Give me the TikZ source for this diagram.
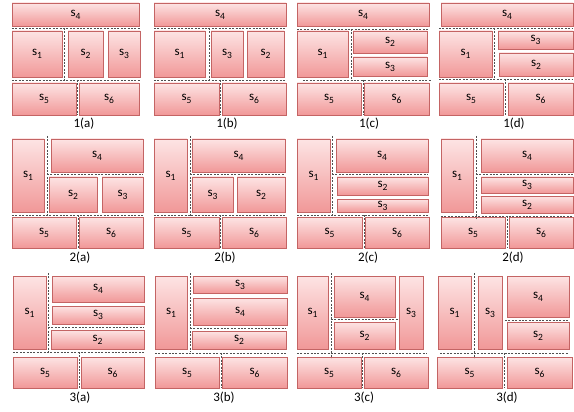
\documentclass[tikz,border=0pt]{standalone}
\usepackage{fontspec}
\setmainfont{Carlito}
\usetikzlibrary{shadows}
\definecolor{boxtop}{RGB}{253,228,228}
\definecolor{boxbot}{RGB}{241,152,152}
\definecolor{boxline}{RGB}{196,100,100}
\definecolor{dashcol}{RGB}{80,80,80}
\newcommand\sub[1]{\raisebox{-0.45ex}{\fontsize{9.5}{10}\selectfont #1}}
\tikzset{
  sbox/.style={draw=boxline, line width=0.6pt, top color=boxtop, bottom color=boxbot,
    inner sep=0pt, outer sep=0pt, font=\fontsize{13}{14}\selectfont,
    drop shadow={shadow xshift=0.9pt, shadow yshift=-0.9pt, opacity=0.25}},
  cut/.style={draw=dashcol, line width=0.7pt, dash pattern=on 2pt off 1.4pt},
  caption/.style={font=\fontsize{13}{14}\selectfont, inner sep=0pt}
}
\newcommand\bx[6]{%
  \pgfmathsetmacro\bxw{#4-#2}\pgfmathsetmacro\bxh{#5-#3}%
  \node[sbox, minimum width=\bxw pt, minimum height=\bxh pt] (#1) at ({(#2+#4)/2},{(#3+#5)/2}) {s\sub{#6}};}
\newcommand\cutline[4]{\draw[cut] (#1,#2) -- (#3,#4);}
\begin{document}
\begin{tikzpicture}[x=1pt,y=-1pt]
\useasboundingbox (0,0) rectangle (574,412);
% ---------- row 1 ----------
% 1(a)
\bx{a4}{12}{3}{139}{26}{4}
\bx{a1}{12}{31}{62}{77}{1}
\bx{a2}{68}{31}{103}{77}{2}
\bx{a3}{108}{31}{140}{77}{3}
\bx{a5}{12}{83}{76}{115}{5}
\bx{a6}{79}{83}{139}{115}{6}
\cutline{12}{28}{140}{28}\cutline{12}{80}{140}{80}
\cutline{64}{28}{64}{80}\cutline{77}{80}{77}{115}
\node[caption] (la) at (84,124) {1(a)};
% 1(b)
\bx{b4}{154}{3}{286}{26}{4}
\bx{b1}{154}{31}{205}{77}{1}
\bx{b3}{211}{31}{243}{77}{3}
\bx{b2}{247}{31}{284}{77}{2}
\bx{b5}{154}{83}{219}{115}{5}
\bx{b6}{222}{83}{286}{115}{6}
\cutline{154}{28}{286}{28}\cutline{154}{80}{286}{80}
\cutline{209}{28}{209}{80}\cutline{220}{80}{220}{115}
\node[caption] (lb) at (227,124) {1(b)};
% 1(c)
\bx{c4}{297}{3}{429}{26}{4}
\bx{c1}{297}{31}{348}{77}{1}
\bx{c2}{353}{31}{427}{53}{2}
\bx{c3}{353}{57}{427}{76}{3}
\bx{c5}{297}{83}{361}{115}{5}
\bx{c6}{364}{83}{429}{115}{6}
\cutline{297}{29}{428}{29}\cutline{303}{80}{432}{80}
\cutline{351}{29}{351}{80}\cutline{363}{80}{363}{115}
\node[caption] (lc) at (369,124) {1(c)};
% 1(d)
\bx{d4}{441}{3}{573}{26}{4}
\bx{d1}{439}{31}{492}{77}{1}
\bx{d3}{498}{31}{573}{49}{3}
\bx{d2}{499}{53}{573}{76}{2}
\bx{d5}{439}{83}{503}{115}{5}
\bx{d6}{508}{83}{573}{115}{6}
\cutline{439}{28}{573}{28}\cutline{439}{79}{573}{79}
\cutline{494}{28}{494}{80}\cutline{505}{79}{505}{115}
\node[caption] (ld) at (514,124) {1(d)};
% ---------- row 2 ----------
% 2(a)
\bx{e1}{12}{139}{44}{212}{1}
\bx{e4}{51}{139}{143}{172}{4}
\bx{e2}{49}{177}{97}{212}{2}
\bx{e3}{102}{177}{143}{212}{3}
\bx{e5}{12}{217}{76}{248}{5}
\bx{e6}{79}{217}{143}{248}{6}
\cutline{47}{136}{47}{216}\cutline{47}{174}{143}{174}
\cutline{12}{215}{143}{215}\cutline{78}{215}{78}{248}
\node[caption] (le) at (80,258) {2(a)};
% 2(b)
\bx{f1}{154}{139}{187}{212}{1}
\bx{f4}{192}{139}{285}{172}{4}
\bx{f3}{192}{177}{233}{212}{3}
\bx{f2}{237}{177}{285}{212}{2}
\bx{f5}{154}{217}{219}{248}{5}
\bx{f6}{222}{217}{286}{248}{6}
\cutline{190}{136}{190}{216}\cutline{190}{174}{285}{174}
\cutline{154}{215}{286}{215}\cutline{220}{215}{220}{248}
\node[caption] (lf) at (225,258) {2(b)};
% 2(c)
\bx{g1}{297}{139}{330}{212}{1}
\bx{g4}{336}{139}{428}{172}{4}
\bx{g2}{337}{177}{428}{195}{2}
\bx{g3}{337}{199}{428}{212}{3}
\bx{g5}{297}{217}{362}{248}{5}
\bx{g6}{365}{217}{429}{248}{6}
\cutline{332}{136}{332}{216}\cutline{332}{174}{428}{174}
\cutline{297}{215}{429}{215}\cutline{364}{215}{364}{248}
\node[caption] (lg) at (368,258) {2(c)};
% 2(d)
\bx{h1}{441}{139}{473}{212}{1}
\bx{h4}{481}{139}{573}{172}{4}
\bx{h3}{481}{177}{573}{193}{3}
\bx{h2}{481}{196}{573}{213}{2}
\bx{h5}{441}{217}{505}{248}{5}
\bx{h6}{509}{217}{573}{248}{6}
\cutline{476}{136}{476}{218}\cutline{476}{174}{573}{174}
\cutline{441}{216}{573}{216}\cutline{507}{216}{507}{248}
\node[caption] (lh) at (513,258) {2(d)};
% ---------- row 3 ----------
% 3(a)
\bx{i1}{13}{276}{46}{349}{1}
\bx{i4}{52}{276}{144}{302}{4}
\bx{i3}{52}{306}{144}{324}{3}
\bx{i2}{51}{330}{144}{349}{2}
\bx{i5}{13}{357}{77}{388}{5}
\bx{i6}{81}{357}{144}{388}{6}
\cutline{48}{273}{48}{352}\cutline{48}{327}{144}{327}
\cutline{13}{352}{144}{352}\cutline{79}{352}{79}{388}
\node[caption] (li) at (80,398) {3(a)};
% 3(b)
\bx{j1}{155}{276}{187}{349}{1}
\bx{j3}{193}{276}{287}{293}{3}
\bx{j4}{193}{298}{287}{325}{4}
\bx{j2}{192}{331}{286}{349}{2}
\bx{j5}{155}{357}{219}{388}{5}
\bx{j6}{222}{357}{287}{388}{6}
\cutline{190}{273}{190}{352}\cutline{190}{328}{286}{328}
\cutline{155}{353}{287}{353}\cutline{221}{353}{221}{388}
\node[caption] (lj) at (224,398) {3(b)};
% 3(c)
\bx{k1}{297}{276}{328}{349}{1}
\bx{k4}{334}{276}{395}{317}{4}
\bx{k2}{334}{322}{395}{349}{2}
\bx{k3}{399}{276}{423}{349}{3}
\bx{k5}{297}{357}{361}{388}{5}
\bx{k6}{364}{357}{428}{388}{6}
\cutline{331}{273}{331}{358}\cutline{331}{319}{398}{319}
\cutline{297}{353}{427}{353}\cutline{362}{353}{362}{388}
\node[caption] (lk) at (364,398) {3(c)};
% 3(d)
\bx{l1}{438}{276}{471}{349}{1}
\bx{l3}{478}{276}{502}{349}{3}
\bx{l4}{507}{276}{569}{317}{4}
\bx{l2}{507}{322}{569}{349}{2}
\bx{l5}{437}{357}{502}{388}{5}
\bx{l6}{507}{357}{572}{388}{6}
\cutline{474}{273}{474}{358}\cutline{505}{320}{568}{320}
\cutline{440}{353}{568}{353}\cutline{504}{353}{504}{388}
\node[caption] (ll) at (507,398) {3(d)};
\end{tikzpicture}
\end{document}
